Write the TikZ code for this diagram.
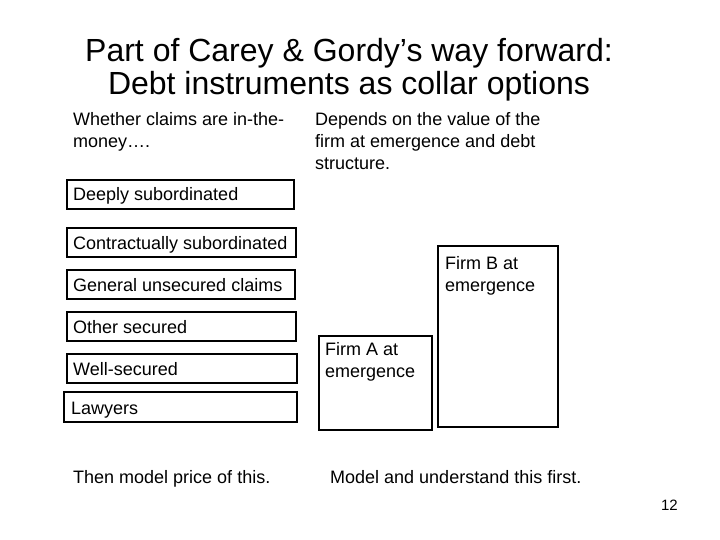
\documentclass[tikz,border=0pt]{standalone}
\usepackage{fontspec}
\setmainfont{Liberation Sans}
\begin{document}
\begin{tikzpicture}[x=1pt,y=-1pt,
  bx/.style={draw,line width=1.2pt},
  lbl/.style={anchor=base west,inner sep=0pt,font=\fontsize{18}{20}\selectfont},
  txt/.style={anchor=north west,inner sep=0pt,align=left,font=\fontsize{18}{22}\selectfont}]
\useasboundingbox (0,0) rectangle (720,540);
\node[align=center,font=\fontsize{32}{33}\selectfont] (title) at (349,70) {Part of Carey \& Gordy’s way forward:\\Debt instruments as collar options};
\node[txt] (t1) at (73,112) {Whether claims are in-the-\\money….};
\node[txt] (t2) at (315,112) {Depends on the value of the\\firm at emergence and debt\\structure.};
\draw[bx] (67,180) rectangle (294,209); \node[lbl] (d) at (73,201) {Deeply subordinated};
\draw[bx] (67,228) rectangle (296,257); \node[lbl] (c) at (73,249) {Contractually subordinated};
\draw[bx] (67,270) rectangle (295,299); \node[lbl] (g) at (73,291) {General unsecured claims};
\draw[bx] (67,312) rectangle (296,341); \node[lbl] (o) at (73,333) {Other secured};
\draw[bx] (67,354) rectangle (297,383); \node[lbl] (w) at (73,375) {Well-secured};
\draw[bx] (64,392) rectangle (297,422); \node[lbl] (l) at (71,414) {Lawyers};
\draw[bx] (319,336) rectangle (432,430);
\node[txt] (a) at (325,342) {Firm A at\\emergence};
\draw[bx] (438,246) rectangle (558,427);
\node[txt] (b) at (445,256) {Firm B at\\emergence};
\node[lbl] (m1) at (73,483) {Then model price of this.};
\node[lbl] (m2) at (330,483) {Model and understand this first.};
\node[font=\fontsize{15}{16}\selectfont,anchor=base east,inner sep=0pt] (n) at (678,510) {12};
\end{tikzpicture}
\end{document}
